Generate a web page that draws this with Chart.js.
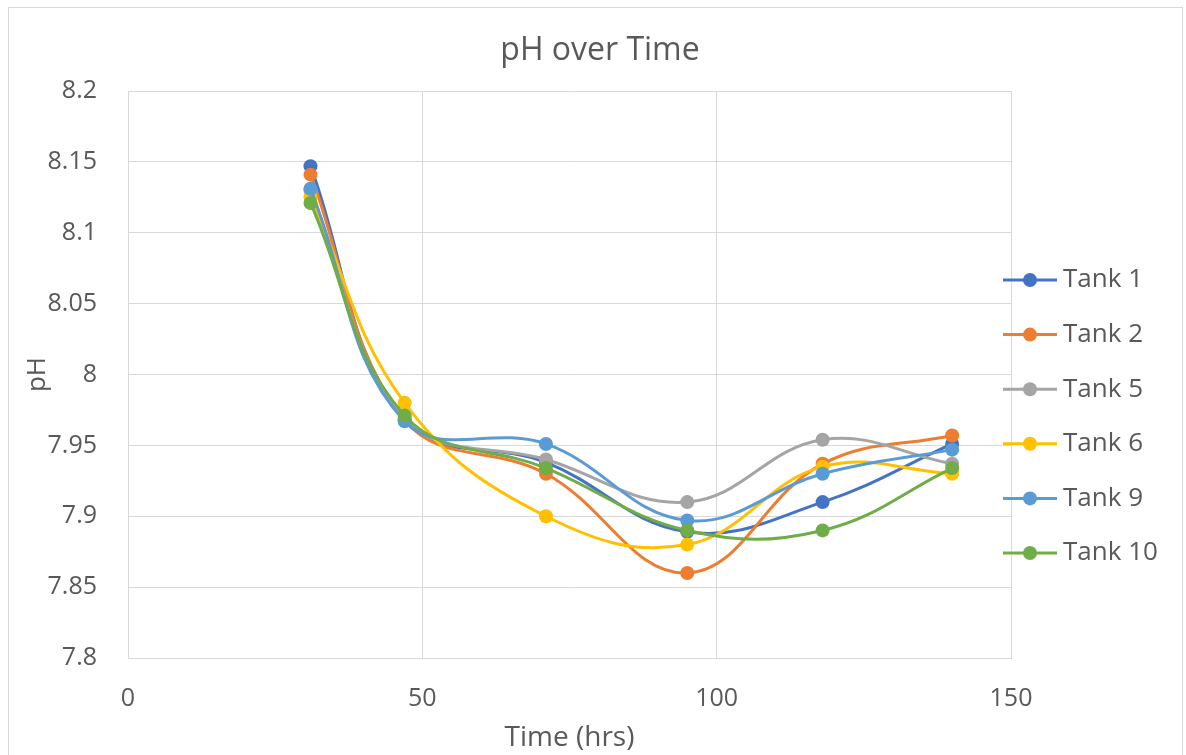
<!DOCTYPE html>
<html>
<head>
<meta charset="utf-8">
<script src="https://cdn.jsdelivr.net/npm/chart.js@4"></script>
<style>
  html, body { margin: 0; padding: 0; background: #fff; }
  #wrap { width: 1186px; height: 755px; position: relative; }
</style>
</head>
<body>
<div id="wrap"><canvas id="chart" width="1186" height="755"></canvas></div>
<script>
// time points (hrs)
const hours = [31, 47, 71, 95, 118, 140];

const tank1 = [8.147, 7.968, 7.938, 7.889, 7.910, 7.951];
const tank2 = [8.141, 7.968, 7.930, 7.860, 7.937, 7.957];
const tank5 = [8.130, 7.969, 7.940, 7.910, 7.954, 7.937];
const tank6 = [8.125, 7.980, 7.900, 7.880, 7.935, 7.930];
const tank9 = [8.131, 7.967, 7.951, 7.897, 7.930, 7.947];
const tank10 = [8.121, 7.971, 7.934, 7.890, 7.890, 7.934];

const seriesNames = ["Tank 1", "Tank 2", "Tank 5", "Tank 6", "Tank 9", "Tank 10"];
const seriesValues = [tank1, tank2, tank5, tank6, tank9, tank10];
const seriesColors = ["#4472C4", "#ED7D31", "#A5A5A5", "#FFC000", "#5B9BD5", "#70AD47"];

const yTicks = [7.8, 7.85, 7.9, 7.95, 8, 8.05, 8.1, 8.15, 8.2];
const xTicks = [0, 50, 100, 150];

const chartTitle = "pH over Time";
const textColor = "#595959";
const gridColor = "#d9d9d9";
const fontFamily = "'Open Sans', 'Noto Sans', sans-serif";

const datasets = seriesNames.map((name, i) => ({
    label: name,
    data: hours.map((h, j) => ({ x: h, y: seriesValues[i][j] })),
    borderColor: seriesColors[i],
    backgroundColor: seriesColors[i],
    borderWidth: 3,
    pointRadius: 7,
    pointHoverRadius: 7,
    pointBorderWidth: 0,
    tension: 0.4,
    fill: false,
    order: seriesNames.length - 1 - i // later series on top, like Excel
}));

// legend on the right: line with a dot, then label
const sideLegend = {
    id: "sideLegend",
    afterDraw(chart) {
        const ctx = chart.ctx;
        ctx.save();
        ctx.font = "26px " + fontFamily;
        ctx.textBaseline = "middle";
        chart.data.datasets.forEach((ds, i) => {
            const y = 280 + i * 54.6;
            ctx.strokeStyle = ds.borderColor;
            ctx.lineWidth = 3;
            ctx.beginPath();
            ctx.moveTo(1003, y);
            ctx.lineTo(1057, y);
            ctx.stroke();
            ctx.fillStyle = ds.borderColor;
            ctx.beginPath();
            ctx.arc(1030, y, 7, 0, Math.PI * 2);
            ctx.fill();
            ctx.fillStyle = textColor;
            ctx.fillText(ds.label, 1063, y);
        });
        ctx.restore();
    }
};

// border round the whole chart + title centred on the canvas
const frame = {
    id: "frame",
    beforeDraw(chart) {
        const ctx = chart.ctx;
        ctx.save();
        ctx.fillStyle = "#fff";
        ctx.fillRect(0, 0, chart.width, chart.height);
        ctx.strokeStyle = gridColor;
        ctx.lineWidth = 1;
        ctx.strokeRect(8.5, 7.5, 1174, 760);
        ctx.fillStyle = textColor;
        ctx.font = "32px " + fontFamily;
        ctx.textAlign = "center";
        ctx.textBaseline = "middle";
        ctx.fillText(chartTitle, 600, 51);
        ctx.restore();
    }
};

new Chart(document.getElementById("chart").getContext("2d"), {
    type: "line",
    data: { datasets },
    plugins: [frame, sideLegend],
    options: {
        responsive: false,
        animation: false,
        layout: { padding: { left: 22, right: 175, top: 91, bottom: 0 } },
        plugins: {
            legend: { display: false },
            tooltip: { enabled: false },
            title: { display: false }
        },
        scales: {
            x: {
                type: "linear",
                min: 0,
                max: 150,
                afterBuildTicks: s => { s.ticks = xTicks.map(v => ({ value: v })); },
                afterFit: s => { s.height = 97; },
                grid: { color: gridColor, lineWidth: 1, drawTicks: false },
                border: { color: gridColor, width: 1 },
                ticks: {
                    color: textColor,
                    padding: 26,
                    font: { family: fontFamily, size: 25 }
                },
                title: {
                    display: true,
                    text: "Time (hrs)",
                    color: textColor,
                    font: { family: fontFamily, size: 28 },
                    padding: { top: 0, bottom: 0 }
                }
            },
            y: {
                min: 7.8,
                max: 8.2,
                afterBuildTicks: s => { s.ticks = yTicks.map(v => ({ value: v })); },
                afterFit: s => { s.width = 106; },
                grid: { color: gridColor, lineWidth: 1, drawTicks: false },
                border: { display: false },
                ticks: {
                    color: textColor,
                    padding: 31,
                    font: { family: fontFamily, size: 25 },
                    callback: v => String(Math.round(v * 100) / 100)
                },
                title: {
                    display: true,
                    text: "pH",
                    color: textColor,
                    font: { family: fontFamily, size: 26 },
                    padding: { top: 0, bottom: 0 }
                }
            }
        }
    }
});
</script>
</body>
</html>
